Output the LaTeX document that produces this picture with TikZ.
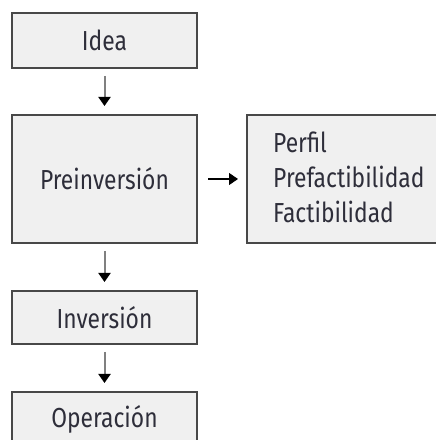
\documentclass[tikz,border=0pt]{standalone}
\usepackage{fontspec}
\setmainfont[FakeStretch=0.83]{Fira Sans}
\usetikzlibrary{arrows.meta}
\definecolor{boxfill}{HTML}{F0F0F0}
\definecolor{boxline}{HTML}{484848}
\definecolor{txt}{HTML}{2E2E3A}
\definecolor{shaft}{HTML}{808080}
\tikzset{
  stage/.style={draw=boxline, line width=2pt, fill=boxfill, minimum width=185pt, inner sep=0pt, text=txt, font=\fontsize{27.5}{33}\selectfont},
  item/.style={anchor=base west, inner sep=0pt, text=txt, font=\fontsize{27.5}{33}\selectfont},
  flow/.style={draw=shaft, line width=2pt, -{Triangle[length=9pt,width=12pt,color=black,fill=black]}, shorten <=7pt, shorten >=8pt},
}
\begin{document}
\begin{tikzpicture}[x=1pt,y=1pt]
\useasboundingbox (0,0) rectangle (436,440);
\clip (0,0) rectangle (436,440);
\node[stage, minimum height=55pt] (idea) at (104.5,399.5) {Idea};
\node[stage, minimum height=128pt] (pre) at (104.5,261) {Preinversión};
\node[stage, minimum height=53pt] (inv) at (104.5,122.5) {Inversión};
\node[stage, minimum height=55pt] (op) at (104.5,20.5) {Operación};
\node[stage, minimum width=215pt, minimum height=128pt] (det) at (354.5,261) {};
\node[item] (l1) at (273,287) {Perfil};
\node[item] (l2) at (273,252) {Prefactibilidad};
\node[item] (l3) at (273,217) {Factibilidad};
\draw[flow] (idea) -- (pre);
\draw[flow] (pre) -- (inv);
\draw[flow] (inv) -- (op);
\draw[flow, draw=black, line width=1.3pt, shorten <=10pt] (pre) -- (det);
\end{tikzpicture}
\end{document}
